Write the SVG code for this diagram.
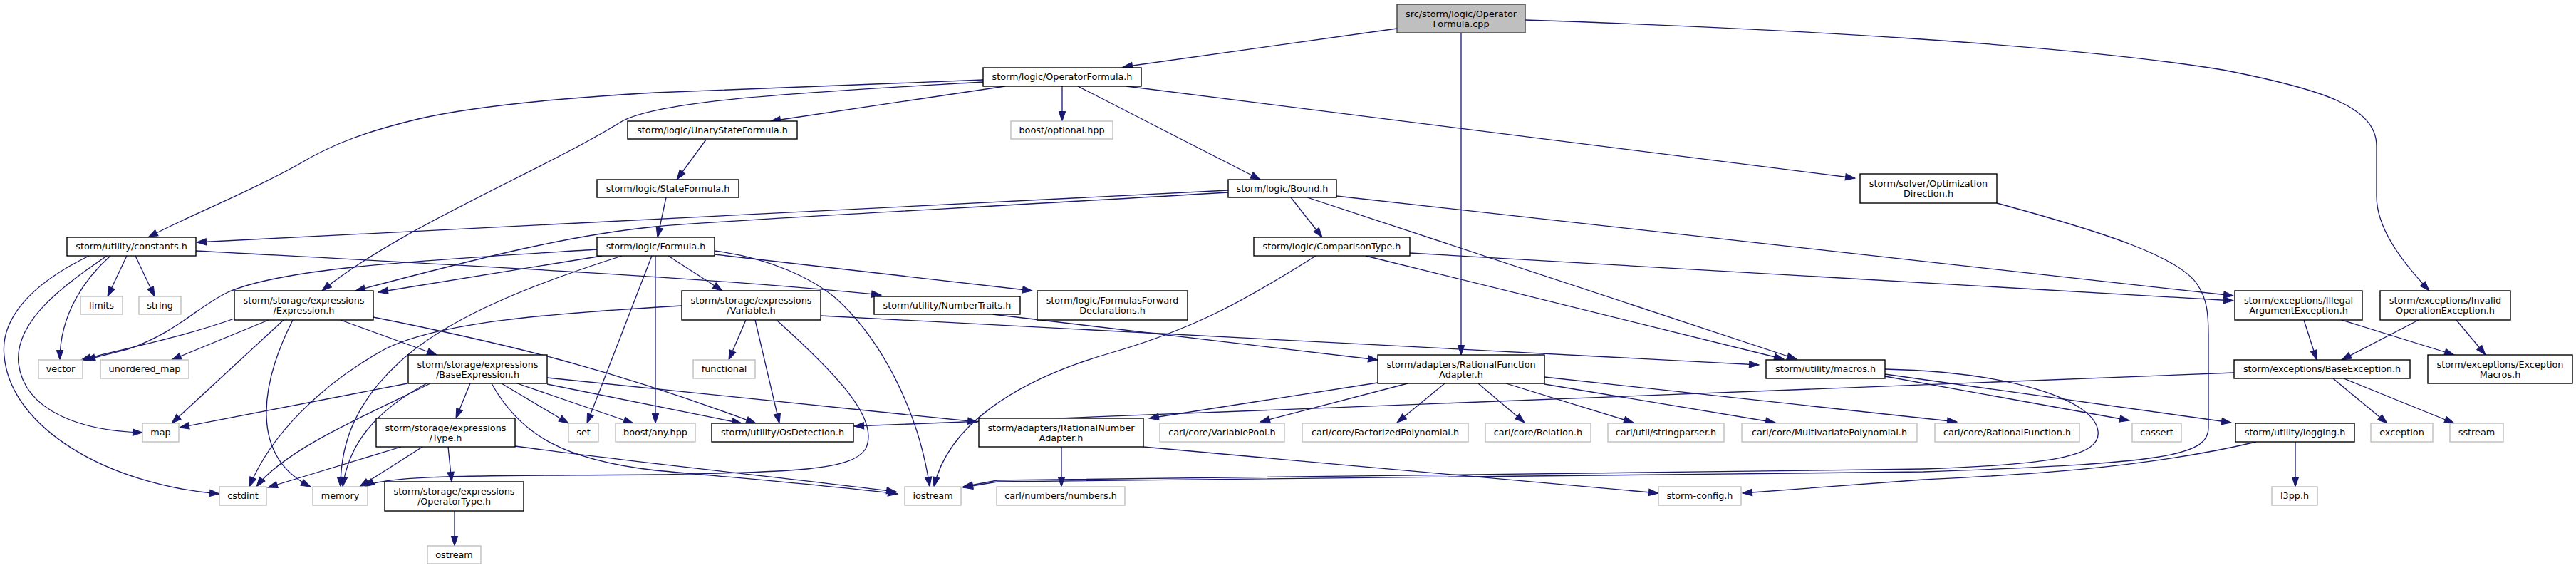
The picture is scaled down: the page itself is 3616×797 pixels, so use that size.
<svg xmlns="http://www.w3.org/2000/svg" width="3616" height="797" viewBox="0 0 3616 797">
<style>
text{font-family:"DejaVu Sans","Liberation Sans",sans-serif;font-size:12.8px;text-anchor:middle;fill:#000}
.n rect{fill:#fff;stroke:#000;stroke-width:1.4}
.g rect{fill:#fff;stroke:#bfbfbf;stroke-width:1.4}
.r rect{fill:#bfbfbf;stroke:#404040;stroke-width:1.4}
#edges path{fill:none;stroke:#191970;stroke-width:1.3;marker-end:url(#a)}
</style>
<defs>
<marker id="a" markerUnits="userSpaceOnUse" markerWidth="16" markerHeight="12" refX="13.5" refY="4.7" orient="auto" overflow="visible">
<path d="M0,0 L13.5,4.7 L0,9.4 z" fill="#191970" stroke="#191970" stroke-width="1"/>
</marker>
</defs>
<rect width="3616" height="797" fill="#fff"/>
<g id="edges">
<path d="M1961,40 L1576,94"/>
<path d="M2051,46 L2051,498"/>
<path d="M2141,28 C2500,40 2900,62 3120,98 C3260,125 3336,150 3336,205 L3336,275 C3336,320 3370,365 3410,408"/>
<path d="M1380,112 L920,130 C780,138 660,150 587,167 C520,183 470,200 420,230 C350,270 270,300 208,333"/>
<path d="M1380,115 C1130,130 920,140 870,172 C760,240 560,320 452,408"/>
<path d="M1411,121 L1082,170"/>
<path d="M1491,121 L1491,170"/>
<path d="M1513,121 L1769,252"/>
<path d="M1581,121 L2604,250"/>
<path d="M991,196 L950,252"/>
<path d="M935,277 L923,333"/>
<path d="M1724,267 L276,340"/>
<path d="M1724,270 C1300,295 1000,310 920,318 C800,330 680,360 499,408"/>
<path d="M1812,277 L1856,333"/>
<path d="M1835,277 L2522,504"/>
<path d="M1876,275 L3135,415"/>
<path d="M1979,355 L3135,422"/>
<path d="M1917,359 L2504,504"/>
<path d="M1847,359 C1750,420 1680,460 1560,495 C1420,535 1330,600 1311,683"/>
<path d="M178,359 L151,416"/>
<path d="M190,359 L217,416"/>
<path d="M155,359 C120,390 84,440 84,505"/>
<path d="M150,359 C90,400 20,450 26,510 C35,580 120,605 200,607"/>
<path d="M125,359 C40,400 0,450 6,500 C15,600 150,680 308,693"/>
<path d="M275,352 C700,375 1000,390 1237,414"/>
<path d="M838,350 C600,365 400,375 320,410 C275,432 250,465 180,490 L120,505"/>
<path d="M845,359 L531,410"/>
<path d="M873,359 C760,395 640,440 570,500 C500,560 478,620 478,683"/>
<path d="M915,359 L824,594"/>
<path d="M920,359 L920,594"/>
<path d="M938,359 L1014,408"/>
<path d="M1003,352 C1080,362 1140,390 1175,420 C1240,480 1290,580 1305,683"/>
<path d="M1003,357 L1449,408"/>
<path d="M329,447 C250,475 170,490 114,505"/>
<path d="M377,449 L241,505"/>
<path d="M398,449 L241,594"/>
<path d="M411,449 C365,540 350,640 436,683"/>
<path d="M478,449 L613,498"/>
<path d="M524,445 C700,480 850,515 1061,594"/>
<path d="M572,538 L252,600"/>
<path d="M604,538 C520,580 400,630 360,683"/>
<path d="M599,538 C530,575 490,620 481,683"/>
<path d="M660,538 L640,587"/>
<path d="M704,538 L798,594"/>
<path d="M726,538 L889,594"/>
<path d="M690,538 C730,610 790,645 920,660 C1050,672 1150,680 1260,693"/>
<path d="M768,539 L1041,594"/>
<path d="M768,530 L1372,592"/>
<path d="M563,627 L376,684"/>
<path d="M593,627 L505,683"/>
<path d="M629,627 L634,676"/>
<path d="M723,626 C900,650 1100,670 1258,690"/>
<path d="M638,717 L638,766"/>
<path d="M957,429 C780,440 620,450 540,490 C450,540 380,610 350,683"/>
<path d="M1047,449 L1023,505"/>
<path d="M1060,449 L1094,594"/>
<path d="M1090,449 C1180,530 1235,590 1215,630 C1195,660 1120,662 920,666 C700,668 540,665 512,683"/>
<path d="M1152,443 L2469,512"/>
<path d="M1393,441 L1934,505"/>
<path d="M1934,537 L1613,587"/>
<path d="M1976,538 L1769,592"/>
<path d="M2028,538 L1961,593"/>
<path d="M2075,538 L2140,593"/>
<path d="M2114,538 L2293,593"/>
<path d="M2168,539 L2492,593"/>
<path d="M2168,529 L2747,592"/>
<path d="M2646,528 L2989,590"/>
<path d="M2646,525 L3132,593"/>
<path d="M2646,518 C2820,522 2940,560 2945,605 C2950,640 2880,652 2700,658 C2200,665 1600,670 1400,674 L1352,683"/>
<path d="M2803,285 C2950,325 3060,360 3085,400 C3098,420 3100,440 3100,470 L3100,600 C3100,640 3040,650 2700,662 C2200,668 1600,672 1400,676 L1352,684"/>
<path d="M3222,620 L3222,683"/>
<path d="M3167,620 C3000,660 2800,668 2700,673 L2446,692"/>
<path d="M1490,627 L1490,683"/>
<path d="M1605,627 L2328,692"/>
<path d="M3234,449 L3252,505"/>
<path d="M3287,449 L3445,498"/>
<path d="M3395,449 L3287,505"/>
<path d="M3448,449 L3489,498"/>
<path d="M3275,531 L3351,594"/>
<path d="M3290,531 L3445,594"/>
<path d="M3136,523 C2400,548 1700,575 1199,598"/>
</g>
<g id="n0" class="r"><rect x="1961" y="6" width="180" height="40"/><text x="2051" y="23.5">src/storm/logic/Operator</text><text x="2051" y="37.5">Formula.cpp</text></g>
<g id="n1" class="n"><rect x="1380" y="95" width="222" height="26"/><text x="1491" y="112">storm/logic/OperatorFormula.h</text></g>
<g id="n2" class="n"><rect x="881" y="170" width="238" height="25"/><text x="1000" y="187">storm/logic/UnaryStateFormula.h</text></g>
<g id="n3" class="g"><rect x="1419" y="170" width="143" height="25"/><text x="1490.5" y="187">boost/optional.hpp</text></g>
<g id="n4" class="n"><rect x="838" y="252" width="199" height="25"/><text x="937.5" y="269">storm/logic/StateFormula.h</text></g>
<g id="n5" class="n"><rect x="1724" y="252" width="152" height="25"/><text x="1800" y="269">storm/logic/Bound.h</text></g>
<g id="n6" class="n"><rect x="2611" y="244" width="192" height="41"/><text x="2707" y="261.5">storm/solver/Optimization</text><text x="2707" y="275.5">Direction.h</text></g>
<g id="n7" class="n"><rect x="94" y="333" width="181" height="26"/><text x="184.5" y="350">storm/utility/constants.h</text></g>
<g id="n8" class="n"><rect x="838" y="333" width="165" height="26"/><text x="920.5" y="350">storm/logic/Formula.h</text></g>
<g id="n9" class="n"><rect x="1760" y="333" width="219" height="26"/><text x="1869.5" y="350">storm/logic/ComparisonType.h</text></g>
<g id="n10" class="g"><rect x="113" y="416" width="59" height="25"/><text x="142.5" y="433">limits</text></g>
<g id="n11" class="g"><rect x="195" y="416" width="59" height="25"/><text x="224.5" y="433">string</text></g>
<g id="n12" class="n"><rect x="329" y="408" width="195" height="41"/><text x="426.5" y="425.5">storm/storage/expressions</text><text x="426.5" y="439.5">/Expression.h</text></g>
<g id="n13" class="n"><rect x="957" y="408" width="195" height="41"/><text x="1054.5" y="425.5">storm/storage/expressions</text><text x="1054.5" y="439.5">/Variable.h</text></g>
<g id="n14" class="n"><rect x="1227" y="416" width="205" height="25"/><text x="1329.5" y="433">storm/utility/NumberTraits.h</text></g>
<g id="n15" class="n"><rect x="1456" y="408" width="211" height="41"/><text x="1561.5" y="425.5">storm/logic/FormulasForward</text><text x="1561.5" y="439.5">Declarations.h</text></g>
<g id="n16" class="n"><rect x="3137" y="408" width="179" height="41"/><text x="3226.5" y="425.5">storm/exceptions/Illegal</text><text x="3226.5" y="439.5">ArgumentException.h</text></g>
<g id="n17" class="n"><rect x="3341" y="408" width="183" height="41"/><text x="3432.5" y="425.5">storm/exceptions/Invalid</text><text x="3432.5" y="439.5">OperationException.h</text></g>
<g id="n18" class="g"><rect x="54" y="505" width="62" height="26"/><text x="85" y="522">vector</text></g>
<g id="n19" class="g"><rect x="141" y="505" width="124" height="26"/><text x="203" y="522">unordered_map</text></g>
<g id="n20" class="n"><rect x="573" y="498" width="195" height="40"/><text x="670.5" y="515.5">storm/storage/expressions</text><text x="670.5" y="529.5">/BaseExpression.h</text></g>
<g id="n21" class="g"><rect x="973" y="505" width="87" height="26"/><text x="1016.5" y="522">functional</text></g>
<g id="n22" class="n"><rect x="1934" y="498" width="234" height="40"/><text x="2051" y="515.5">storm/adapters/RationalFunction</text><text x="2051" y="529.5">Adapter.h</text></g>
<g id="n23" class="n"><rect x="2479" y="505" width="167" height="26"/><text x="2562.5" y="522">storm/utility/macros.h</text></g>
<g id="n24" class="n"><rect x="3136" y="505" width="247" height="26"/><text x="3259.5" y="522">storm/exceptions/BaseException.h</text></g>
<g id="n25" class="n"><rect x="3408" y="498" width="203" height="40"/><text x="3509.5" y="515.5">storm/exceptions/Exception</text><text x="3509.5" y="529.5">Macros.h</text></g>
<g id="n26" class="g"><rect x="200" y="594" width="51" height="26"/><text x="225.5" y="611">map</text></g>
<g id="n27" class="n"><rect x="528" y="587" width="195" height="40"/><text x="625.5" y="604.5">storm/storage/expressions</text><text x="625.5" y="618.5">/Type.h</text></g>
<g id="n28" class="g"><rect x="798" y="594" width="42" height="26"/><text x="819" y="611">set</text></g>
<g id="n29" class="g"><rect x="864" y="594" width="112" height="26"/><text x="920" y="611">boost/any.hpp</text></g>
<g id="n30" class="n"><rect x="999" y="594" width="199" height="26"/><text x="1098.5" y="611">storm/utility/OsDetection.h</text></g>
<g id="n31" class="n"><rect x="1374" y="587" width="231" height="40"/><text x="1489.5" y="604.5">storm/adapters/RationalNumber</text><text x="1489.5" y="618.5">Adapter.h</text></g>
<g id="n32" class="g"><rect x="1628" y="594" width="175" height="26"/><text x="1715.5" y="611">carl/core/VariablePool.h</text></g>
<g id="n33" class="g"><rect x="1828" y="594" width="233" height="26"/><text x="1944.5" y="611">carl/core/FactorizedPolynomial.h</text></g>
<g id="n34" class="g"><rect x="2085" y="594" width="148" height="26"/><text x="2159" y="611">carl/core/Relation.h</text></g>
<g id="n35" class="g"><rect x="2257" y="594" width="163" height="26"/><text x="2338.5" y="611">carl/util/stringparser.h</text></g>
<g id="n36" class="g"><rect x="2445" y="594" width="246" height="26"/><text x="2568" y="611">carl/core/MultivariatePolynomial.h</text></g>
<g id="n37" class="g"><rect x="2716" y="594" width="203" height="26"/><text x="2817.5" y="611">carl/core/RationalFunction.h</text></g>
<g id="n38" class="g"><rect x="2993" y="594" width="69" height="26"/><text x="3027.5" y="611">cassert</text></g>
<g id="n39" class="n"><rect x="3138" y="594" width="167" height="26"/><text x="3221.5" y="611">storm/utility/logging.h</text></g>
<g id="n40" class="g"><rect x="3328" y="594" width="87" height="26"/><text x="3371.5" y="611">exception</text></g>
<g id="n41" class="g"><rect x="3439" y="594" width="75" height="26"/><text x="3476.5" y="611">sstream</text></g>
<g id="n42" class="g"><rect x="308" y="683" width="66" height="26"/><text x="341" y="700">cstdint</text></g>
<g id="n43" class="g"><rect x="439" y="683" width="77" height="26"/><text x="477.5" y="700">memory</text></g>
<g id="n44" class="n"><rect x="540" y="676" width="195" height="41"/><text x="637.5" y="693.5">storm/storage/expressions</text><text x="637.5" y="707.5">/OperatorType.h</text></g>
<g id="n45" class="g"><rect x="1270" y="683" width="79" height="26"/><text x="1309.5" y="700">iostream</text></g>
<g id="n46" class="g"><rect x="1399" y="683" width="180" height="26"/><text x="1489" y="700">carl/numbers/numbers.h</text></g>
<g id="n47" class="g"><rect x="2328" y="683" width="116" height="26"/><text x="2386" y="700">storm-config.h</text></g>
<g id="n48" class="g"><rect x="3189" y="683" width="64" height="26"/><text x="3221" y="700">l3pp.h</text></g>
<g id="n49" class="g"><rect x="600" y="766" width="75" height="25"/><text x="637.5" y="783">ostream</text></g>
</svg>
